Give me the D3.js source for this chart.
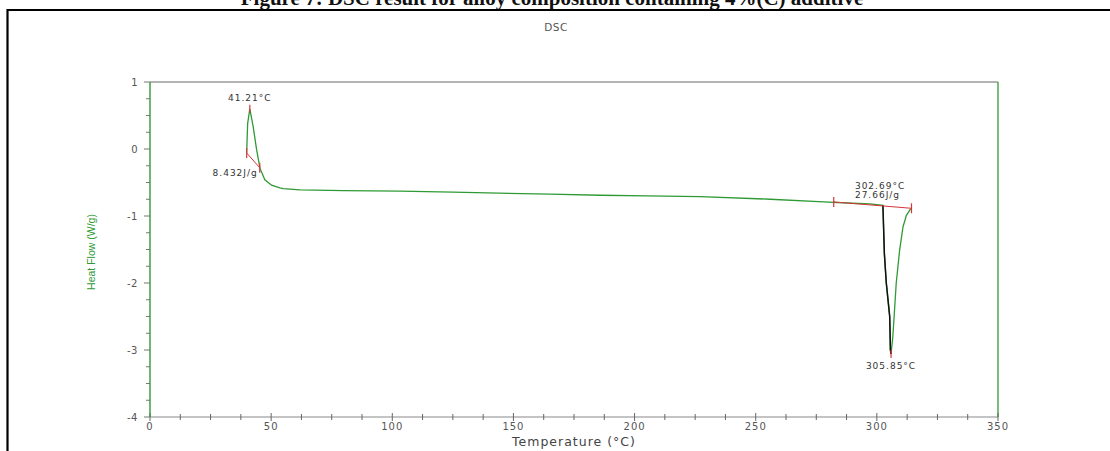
<!DOCTYPE html>
<html>
<head>
<meta charset="utf-8">
<script src="https://cdn.jsdelivr.net/npm/d3@7"></script>
<style>
  body { margin: 0; background: #fff; }
  svg { display: block; }
</style>
</head>
<body>
<svg id="chart" width="1110" height="451"></svg>
<script>
// DSC curve (temperature in °C, heat flow in W/g)
var temps = [39.9, 40.3, 41.2, 42.6, 44.0, 45.4, 47.4, 50.2, 53.6, 55.0, 61.9, 80, 103, 125, 144, 165, 186, 205, 227, 256, 278, 290, 297, 302.5,
             303.1, 303.9, 305.3, 305.6, 305.85, 306.6, 308.0, 309.4, 310.8, 312.2, 314.0];
var flows = [-0.06, 0.38, 0.60, 0.33, -0.01, -0.29, -0.46, -0.54, -0.58, -0.59, -0.61, -0.62, -0.63, -0.645, -0.66, -0.675, -0.69, -0.70, -0.71, -0.75, -0.79, -0.81, -0.82, -0.84,
             -1.56, -2.0, -2.5, -3.0, -3.06, -2.8, -2.0, -1.51, -1.16, -0.99, -0.89];

// integration baselines (red)
var baseLeftT = [39.9, 45.3];
var baseLeftF = [-0.06, -0.28];
var baseRightT = [282.2, 314.3];
var baseRightF = [-0.79, -0.885];

var xTicks = [0, 50, 100, 150, 200, 250, 300, 350];
var yTicks = [1, 0, -1, -2, -3, -4];

var svg = d3.select("#chart");
var margin = {left: 150, right: 998, top: 82, bottom: 417};

var x = d3.scaleLinear().domain([0, 350]).range([margin.left, margin.right]);
var y = d3.scaleLinear().domain([-4, 1]).range([margin.bottom, margin.top]);

var green = "#2f9a35";
var red = "#d8343a";
var txt = "#555";

// caption, cut at the top of the page as in the scan
svg.append("text")
    .attr("x", 552).attr("y", 5)
    .attr("text-anchor", "middle")
    .attr("font-family", "Liberation Serif")
    .attr("font-weight", "bold")
    .attr("font-size", 21)
    .attr("fill", "#111")
    .text("Figure 7: DSC result for alloy composition containing 4%(C) additive");

// outer frame (left and top edges visible)
svg.append("path")
    .attr("d", "M7.5,451 L7.5,10 L1110,10")
    .attr("fill", "none")
    .attr("stroke", "#000")
    .attr("stroke-width", 2.2);

svg.append("text")
    .attr("x", 556).attr("y", 31)
    .attr("text-anchor", "middle")
    .attr("font-family", "DejaVu Sans")
    .attr("font-size", 10.5)
    .attr("letter-spacing", 0.5)
    .attr("fill", txt)
    .text("DSC");

// plot borders
svg.append("line")
    .attr("x1", x(0)).attr("x2", x(350)).attr("y1", y(1)).attr("y2", y(1))
    .attr("stroke", "#9a9a9a").attr("stroke-width", 1.5);
svg.append("line")
    .attr("x1", x(350)).attr("x2", x(350)).attr("y1", y(1)).attr("y2", y(-4))
    .attr("stroke", green).attr("stroke-width", 1.3);

// x axis
var xAxis = svg.append("g").attr("transform", "translate(0," + y(-4) + ")");
xAxis.append("line")
    .attr("x1", x(0)).attr("x2", x(350))
    .attr("stroke", "#8a8a8a").attr("stroke-width", 1.2);
xAxis.selectAll("line.minor")
    .data(d3.range(0, 351, 12.5))
    .enter().append("line")
    .attr("class", "minor")
    .attr("x1", function(d) { return x(d); })
    .attr("x2", function(d) { return x(d); })
    .attr("y1", function(d) { return d % 50 === 0 ? -4 : -3; })
    .attr("y2", function(d) { return d % 50 === 0 ? 4 : 3; })
    .attr("stroke", "#666").attr("stroke-width", 1);
xAxis.selectAll("text")
    .data(xTicks)
    .enter().append("text")
    .attr("x", function(d) { return x(d); })
    .attr("y", 13)
    .attr("text-anchor", "middle")
    .attr("font-family", "DejaVu Sans")
    .attr("font-size", 10)
    .attr("letter-spacing", 1)
    .attr("fill", txt)
    .text(function(d) { return d; });

svg.append("text")
    .attr("x", (x(0) + x(350)) / 2).attr("y", 446)
    .attr("text-anchor", "middle")
    .attr("font-family", "DejaVu Sans")
    .attr("font-size", 12.5)
    .attr("letter-spacing", 1)
    .attr("fill", "#444")
    .text("Temperature (°C)");

// y axis
var yAxis = svg.append("g").attr("transform", "translate(" + x(0) + ",0)");
yAxis.selectAll("line.minor")
    .data(d3.range(-4, 1.01, 0.25))
    .enter().append("line")
    .attr("class", "minor")
    .attr("y1", function(d) { return y(d); })
    .attr("y2", function(d) { return y(d); })
    .attr("x1", function(d) { return Number.isInteger(d) ? -6 : -4; })
    .attr("x2", 0)
    .attr("stroke", "#777").attr("stroke-width", 1);
yAxis.append("line")
    .attr("y1", y(1)).attr("y2", y(-4))
    .attr("stroke", green).attr("stroke-width", 1.4);
yAxis.selectAll("text")
    .data(yTicks)
    .enter().append("text")
    .attr("x", -12)
    .attr("y", function(d) { return y(d) + 3.5; })
    .attr("text-anchor", "end")
    .attr("font-family", "DejaVu Sans")
    .attr("font-size", 10)
    .attr("letter-spacing", 0.5)
    .attr("fill", txt)
    .text(function(d) { return d; });

svg.append("text")
    .attr("transform", "translate(95,252) rotate(-90)")
    .attr("text-anchor", "middle")
    .attr("font-family", "Liberation Sans")
    .attr("font-size", 10.5)
    .attr("fill", green)
    .text("Heat Flow (W/g)");

// curve
var pts = temps.map(function(t, i) { return [t, flows[i]]; });
var line = d3.line()
    .x(function(d) { return x(d[0]); })
    .y(function(d) { return y(d[1]); });

svg.append("path")
    .datum(pts)
    .attr("d", line)
    .attr("fill", "none")
    .attr("stroke", green)
    .attr("stroke-width", 1.3);

// black onset segment down to the peak
var onsetPts = pts.filter(function(d) { return d[0] >= 302.5 && d[0] <= 305.85; });
svg.append("path")
    .datum(onsetPts)
    .attr("d", line)
    .attr("fill", "none")
    .attr("stroke", "#111")
    .attr("stroke-width", 1.5);

// baselines
function baseline(ts, fs) {
  var b = ts.map(function(t, i) { return [t, fs[i]]; });
  svg.append("path")
      .datum(b)
      .attr("d", line)
      .attr("fill", "none")
      .attr("stroke", red)
      .attr("stroke-width", 1);
  svg.selectAll(null)
      .data(b)
      .enter().append("line")
      .attr("x1", function(d) { return x(d[0]); })
      .attr("x2", function(d) { return x(d[0]); })
      .attr("y1", function(d) { return y(d[1]) - 5; })
      .attr("y2", function(d) { return y(d[1]) + 5; })
      .attr("stroke", red)
      .attr("stroke-width", 1.2);
}
baseline(baseLeftT, baseLeftF);
baseline(baseRightT, baseRightF);

// peak markers
[[41.2, 0.60], [305.85, -3.06]].forEach(function(p) {
  svg.append("line")
      .attr("x1", x(p[0])).attr("x2", x(p[0]))
      .attr("y1", y(p[1]) - 4).attr("y2", y(p[1]) + 4)
      .attr("stroke", red).attr("stroke-width", 1.2);
});

// annotations
var notes = [
  {t: "41.21°C", x: 41.2, y: 0.60, dx: 0, dy: -8, a: "middle"},
  {t: "8.432J/g", x: 45.3, y: -0.28, dx: -2, dy: 8, a: "end"},
  {t: "302.69°C", x: 302.5, y: -0.84, dx: -28, dy: -16, a: "start"},
  {t: "27.66J/g", x: 302.5, y: -0.84, dx: -28, dy: -7, a: "start"},
  {t: "305.85°C", x: 305.85, y: -3.06, dx: 0, dy: 15, a: "middle"}
];
svg.selectAll("text.note")
    .data(notes)
    .enter().append("text")
    .attr("class", "note")
    .attr("x", function(d) { return x(d.x) + d.dx; })
    .attr("y", function(d) { return y(d.y) + d.dy; })
    .attr("text-anchor", function(d) { return d.a; })
    .attr("font-family", "DejaVu Sans")
    .attr("font-size", 9)
    .attr("letter-spacing", 1)
    .attr("fill", "#333")
    .text(function(d) { return d.t; });
</script>
</body>
</html>
